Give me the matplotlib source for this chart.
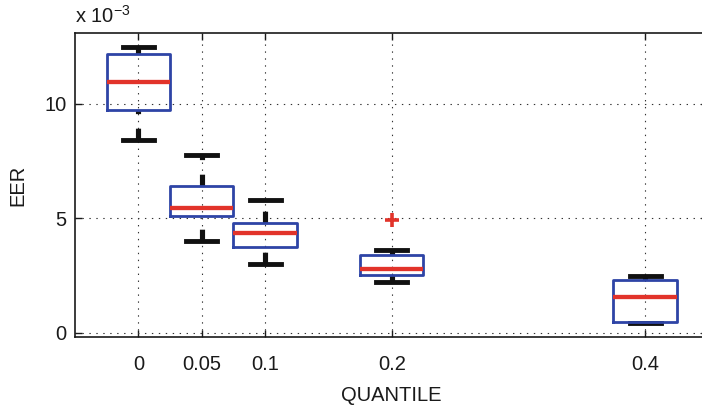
#!/usr/bin/env python3
"""EER box plots for each quantile setting."""

import matplotlib
matplotlib.use('Agg')
import matplotlib.pyplot as plt
from matplotlib.ticker import FuncFormatter

plt.rcParams['font.family'] = ['Liberation Sans', 'DejaVu Sans']
plt.rcParams['lines.scale_dashes'] = False

boxcol = '#2e44a6'
medcol = '#e2332a'
whcol = '#111111'
gridcol = '#333333'
txtcol = '#1a1a1a'

quantiles = [0.0, 0.05, 0.1, 0.2, 0.4]
tick_labels = ['0', '0.05', '0.1', '0.2', '0.4']

# five-number summaries of EER per quantile
eer_low = [8.40e-3, 4.00e-3, 3.00e-3, 2.22e-3, 0.42e-3]
eer_q1 = [9.74e-3, 5.09e-3, 3.74e-3, 2.52e-3, 0.45e-3]
eer_med = [10.96e-3, 5.45e-3, 4.36e-3, 2.78e-3, 1.57e-3]
eer_q3 = [12.17e-3, 6.39e-3, 4.78e-3, 3.39e-3, 2.30e-3]
eer_high = [12.48e-3, 7.78e-3, 5.80e-3, 3.61e-3, 2.48e-3]
eer_outliers = [[], [], [], [4.91e-3], []]

stats = []
for i in range(len(quantiles)):
    stats.append(dict(whislo=eer_low[i], q1=eer_q1[i], med=eer_med[i],
                      q3=eer_q3[i], whishi=eer_high[i],
                      fliers=eer_outliers[i]))

fig = plt.figure(figsize=(7.02, 4.09), dpi=100)
ax = fig.add_axes([75 / 702, 1 - 337.3 / 409, 633.4 / 702, 304.6 / 409])

bp = ax.bxp(stats, positions=quantiles, widths=0.05, capwidths=0.0245,
            patch_artist=False, manage_ticks=False,
            boxprops=dict(color=boxcol, lw=2.0),
            medianprops=dict(color=medcol, lw=3.1),
            whiskerprops=dict(color=whcol, lw=3.7, dashes=(8.5, 10.5)),
            capprops=dict(color=whcol, lw=3.5),
            flierprops=dict(marker='+', markeredgecolor=medcol,
                            markersize=10, markeredgewidth=2.6))

# lower whiskers run from the cap up to the box
for w in bp['whiskers'][0::2]:
    xd, yd = w.get_data()
    w.set_data(xd[::-1], yd[::-1])
for c in bp['caps']:
    c.set_zorder(2)
for b in bp['boxes']:
    b.set_zorder(3)
for m in bp['medians']:
    m.set_zorder(4)

ax.set_xlim(-0.05, 0.45)
ax.set_ylim(-0.0002, 0.0131)
ax.set_xticks(quantiles)
ax.set_xticklabels(tick_labels)
ax.set_yticks([0, 0.005, 0.01])
ax.yaxis.set_major_formatter(FuncFormatter(lambda v, p: '%g' % round(v * 1000, 6)))

ax.grid(True, color=gridcol, lw=0.8, dashes=(1.0, 4.0))
ax.set_axisbelow(True)

for s in ax.spines.values():
    s.set_linewidth(1.2)
    s.set_color(txtcol)
ax.tick_params(direction='in', length=5, width=1.0, top=True, right=True,
               labelsize=14.5, colors=txtcol, pad=6)
ax.tick_params(axis='x', pad=13)

ax.set_xlabel('QUANTILE', fontsize=14.5, labelpad=8.5, color=txtcol)
ax.set_ylabel('EER', fontsize=14.5, labelpad=12, color=txtcol)
fig.text(75 / 702, 1 - 23 / 409, r'x $\mathregular{10^{-3}}$', fontsize=14.5,
         color=txtcol, ha='left', va='baseline')

fig.savefig('out.png', dpi=100)
